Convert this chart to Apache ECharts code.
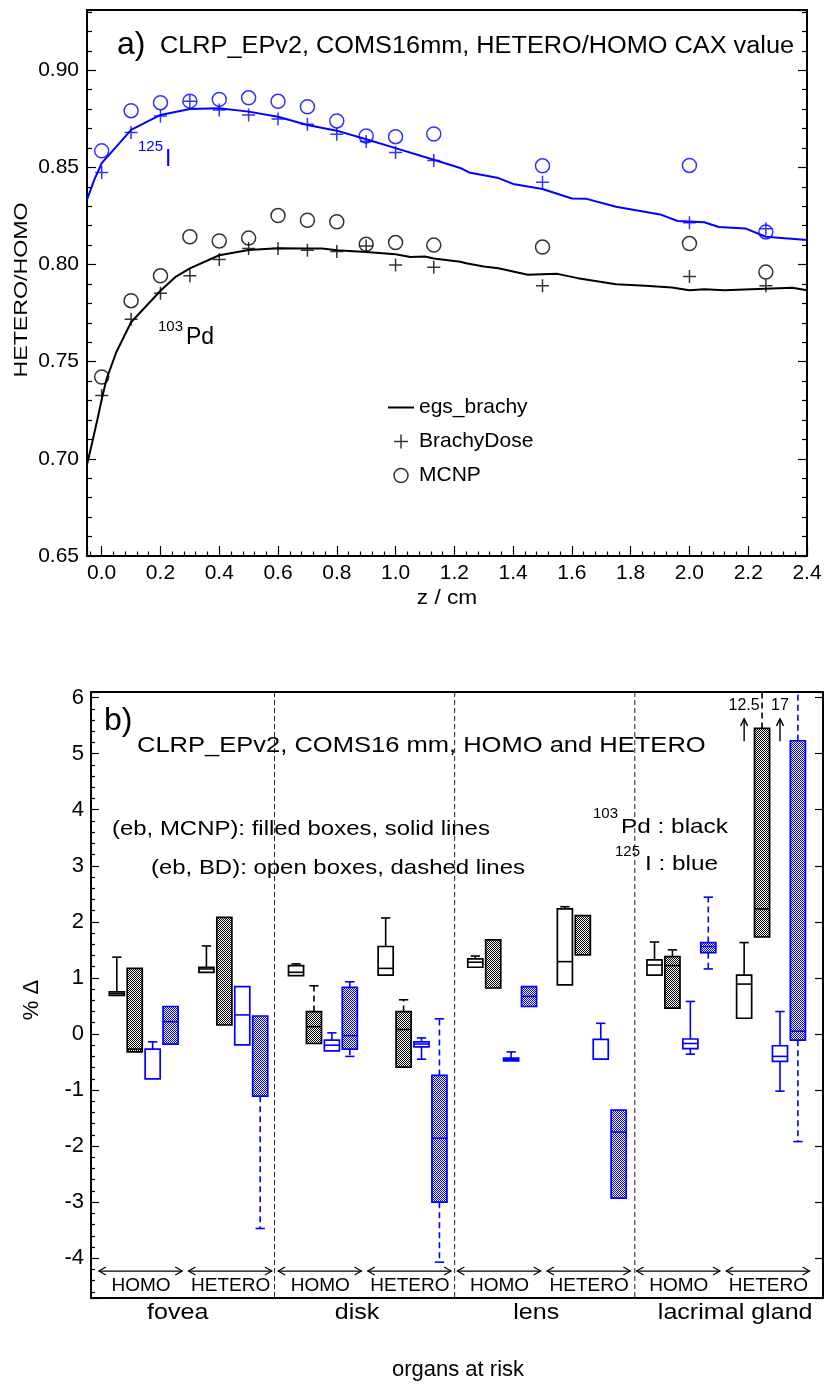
<!DOCTYPE html>
<html><head><meta charset="utf-8">
<script src="https://cdn.jsdelivr.net/npm/echarts@6.0.0/dist/echarts.min.js"></script>
<style>html,body{margin:0;padding:0;background:#fff}#c{width:825px;height:1387px}</style>
</head><body><div id="c"></div><script>
// ================= Panel a) data =================
const zPoints   = [0, 0.1, 0.2, 0.3, 0.4, 0.5, 0.6, 0.7, 0.8, 0.9, 1.0, 1.13, 1.5, 2.0, 2.26];
const bdI125    = [0.8474,0.8679,0.8764,0.8841,0.8795,0.8770,0.8749,0.8722,0.8671,0.8633,0.8577,0.8536,0.8423,0.8215,0.8184];
const mcnpI125  = [0.8585,0.8792,0.8833,0.8841,0.8850,0.8858,0.8840,0.8812,0.8739,0.8662,0.8658,0.8672,0.8508,0.8510,0.8168];
const bdPd103   = [0.7326,0.7719,0.7852,0.7942,0.8026,0.8082,0.8082,0.8073,0.8067,0.8096,0.7997,0.7986,0.7891,0.7939,0.7891];
const mcnpPd103 = [0.7421,0.7814,0.7942,0.8143,0.8121,0.8136,0.8252,0.8228,0.8220,0.8104,0.8113,0.8100,0.8090,0.8108,0.7961];
const egsI125 = [[-0.05,0.8334],[-0.025,0.8437],[0.0,0.8522],[0.05,0.8607],[0.1,0.8693],[0.2,0.8770],[0.3,0.8800],[0.4,0.8804],[0.5,0.8787],[0.6,0.8761],[0.7,0.8718],[0.8,0.8689],[0.9,0.8645],[1.0,0.8599],[1.13,0.8539],[1.22,0.8497],[1.25,0.8474],[1.35,0.8445],[1.4,0.8415],[1.5,0.8389],[1.6,0.8340],[1.65,0.8338],[1.75,0.8297],[1.9,0.8258],[1.96,0.8224],[2.05,0.8218],[2.1,0.8193],[2.19,0.8186],[2.26,0.8143],[2.4,0.8126]];
const egsPd103 = [[-0.05,0.697],[-0.03,0.710],[-0.015,0.720],[0.0,0.7306],[0.017,0.7413],[0.05,0.755],[0.1,0.7703],[0.2,0.7865],[0.25,0.7935],[0.3,0.798],[0.4,0.8048],[0.5,0.8075],[0.6,0.8084],[0.7,0.8082],[0.75,0.8082],[0.8,0.8073],[0.9,0.8065],[1.0,0.8053],[1.05,0.8039],[1.1,0.8041],[1.13,0.8031],[1.22,0.8014],[1.24,0.8007],[1.3,0.799],[1.35,0.7981],[1.45,0.7947],[1.55,0.7952],[1.62,0.793],[1.75,0.7899],[1.85,0.7891],[1.94,0.7882],[2.0,0.7868],[2.05,0.7873],[2.12,0.7868],[2.21,0.7873],[2.35,0.7881],[2.4,0.7868]];

// ================= Panel b) data =================
const organs = ['fovea', 'disk', 'lens', 'lacrimal gland'];
const conditions = ['HOMO', 'HETERO'];
// each entry: [lowWhisker, Q1, median, Q3, highWhisker]  (null = not drawn)
// order: fovea HOMO, fovea HETERO, disk HOMO, disk HETERO, lens HOMO, lens HETERO, lacrimal HOMO, lacrimal HETERO
const pdBD = [
  [null, 0.69, 0.72, 0.75, 1.37],
  [null, 1.10, 1.16, 1.19, 1.57],
  [null, 1.04, 1.10, 1.22, 1.25],
  [null, 1.05, 1.17, 1.56, 2.07],
  [null, 1.19, 1.28, 1.34, 1.39],
  [null, 0.875, 1.29, 2.23, 2.27],
  [null, 1.05, 1.23, 1.32, 1.64],
  [null, 0.28, 0.89, 1.05, 1.63]
];
const pdMCNP = [
  [null, -0.32, -0.27, 1.17, null],
  [null, 0.16, null, 2.08, null],
  [null, -0.17, 0.13, 0.40, 0.86],
  [null, -0.59, 0.08, 0.40, 0.61],
  [null, 0.82, null, 1.68, null],
  [null, 1.41, null, 2.11, null],
  [null, 0.46, 1.22, 1.38, 1.50],
  [null, 1.73, 2.23, 5.45, 12.5]
];
const iBD = [
  [null, -0.80, null, -0.27, -0.14],
  [null, -0.196, 0.34, 0.845, null],
  [null, -0.30, -0.20, -0.11, 0.02],
  [-0.45, -0.23, -0.18, -0.14, -0.07],
  [null, -0.48, -0.45, -0.43, -0.32],
  [null, -0.45, null, -0.095, 0.19],
  [-0.36, -0.26, -0.17, -0.09, 0.58],
  [-1.02, -0.49, -0.40, -0.21, 0.40]
];
const iMCNP = [
  [null, -0.18, 0.22, 0.49, null],
  [-3.47, -1.11, null, 0.32, null],
  [-0.40, -0.27, -0.03, 0.83, 0.93],
  [-4.07, -3.0, -1.86, -0.74, 0.27],
  [null, 0.49, 0.67, 0.845, null],
  [null, -2.93, -1.75, -1.36, null],
  [1.16, 1.45, 1.56, 1.63, 2.44],
  [-1.92, -0.11, 0.05, 5.23, 17]
];
const separators = [8.8, 18.85, 28.9];

// ================= styling / layout =================
const FONT = '"Liberation Sans", Arial, Helvetica, sans-serif';
const BLACK = '#000000', BLUE = '#0000ff';
const X2MIN = -1.44, X2MAX = 39.4, Y2MIN = -4.71, Y2MAX = 6.1;
const BOXW = 0.84;

function makePattern(color) {
  const c = document.createElement('canvas'); c.width = 2; c.height = 2;
  const g = c.getContext('2d');
  g.fillStyle = '#ffffff'; g.fillRect(0, 0, 2, 2);
  g.fillStyle = color; g.fillRect(0, 0, 1, 1); g.fillRect(1, 1, 1, 1);
  return c;
}
const patBlack = makePattern('#000000');
const patBlue = makePattern('#0000ff');

function isNum(v) { return v !== null && v !== undefined && isFinite(v); }

function boxSeries(name, arr, b, color, filled, pat) {
  return {
    type: 'custom', name: name, xAxisIndex: 2, yAxisIndex: 2, clip: true, z: 5, silent: true,
    data: arr.map((d, i) => [i * 5 + b, d[1], d[3]]),
    renderItem: function (params, api) {
      const d = arr[params.dataIndex];
      const slot = api.value(0);
      const low = d[0], q1 = d[1], med = d[2], q3 = d[3], high = d[4];
      const Y = v => api.coord([slot, v])[1];
      const cx = api.coord([slot, q1])[0];
      const hw = api.size([BOXW, 0])[0] / 2;
      const cap = hw * 0.62;
      const wStyle = { stroke: color, lineWidth: 1.6, lineDash: filled ? [6, 4] : null, fill: null };
      const cStyle = { stroke: color, lineWidth: 1.6, fill: null };
      const ch = [];
      if (isNum(high)) {
        ch.push({ type: 'line', shape: { x1: cx, y1: Y(q3), x2: cx, y2: Y(high) }, style: wStyle });
        ch.push({ type: 'line', shape: { x1: cx - cap, y1: Y(high), x2: cx + cap, y2: Y(high) }, style: cStyle });
      }
      if (isNum(low)) {
        ch.push({ type: 'line', shape: { x1: cx, y1: Y(q1), x2: cx, y2: Y(low) }, style: wStyle });
        ch.push({ type: 'line', shape: { x1: cx - cap, y1: Y(low), x2: cx + cap, y2: Y(low) }, style: cStyle });
      }
      ch.push({ type: 'rect', shape: { x: cx - hw, y: Y(q3), width: 2 * hw, height: Y(q1) - Y(q3) },
        style: { fill: filled ? { image: pat, repeat: 'repeat' } : 'rgba(0,0,0,0)', stroke: color, lineWidth: 1.7 } });
      if (isNum(med)) {
        ch.push({ type: 'line', shape: { x1: cx - hw, y1: Y(med), x2: cx + hw, y2: Y(med) }, style: cStyle });
      }
      return { type: 'group', children: ch };
    }
  };
}

// off-scale whiskers (value above axis max) -> arrow + number
const offScale = [];
[pdBD, pdMCNP, iBD, iMCNP].forEach((arr, b) => arr.forEach((d, g) => {
  if (isNum(d[4]) && d[4] > Y2MAX) offScale.push([g * 5 + b - 1.0, d[4]]);
}));

const CROSS = 'path://M7,0L7,14M0,7L14,7';

const chart = echarts.init(document.getElementById('c'), null, { width: 825, height: 1387, renderer: 'canvas' });

const fmtZ = v => { const k = v / 0.2; return (Math.abs(k - Math.round(k)) < 1e-6 && v > -1e-9) ? v.toFixed(1) : ''; };
const fmtR = v => { const k = v / 0.05; return Math.abs(k - Math.round(k)) < 1e-6 ? v.toFixed(2) : ''; };
const fmtI = v => Math.abs(v - Math.round(v)) < 1e-6 ? String(Math.round(v)) : '';

const axLine = { onZero: false, lineStyle: { color: BLACK, width: 2 } };
const tickStyle = { color: BLACK, width: 1.2 };

const textEl = (text, x, y, size, opts) => Object.assign({
  type: 'text', x: x, y: y, silent: true, z: 100,
  style: { text: text, fontSize: size, fontFamily: FONT, fill: (opts && opts.color) || BLACK,
    align: (opts && opts.align) || 'left', textAlign: (opts && opts.align) || 'left',
    verticalAlign: 'middle', textVerticalAlign: 'middle' }
}, opts && opts.extra ? opts.extra : {});

const option = {
  animation: false,
  backgroundColor: '#ffffff',
  textStyle: { fontFamily: FONT },
  grid: [
    { left: 87, right: 18, top: 10, bottom: 831 },
    { left: 91, right: 2, top: 692, bottom: 89 }
  ],
  legend: {
    orient: 'vertical', left: 388, top: 397, itemWidth: 26, itemHeight: 14, itemGap: 13,
    padding: 0, selectedMode: false,
    textStyle: { fontSize: 21, color: BLACK, fontFamily: FONT },
    data: [
      { name: 'egs_brachy', icon: 'path://M0,0H26V2H0Z', itemStyle: { color: BLACK, borderWidth: 0 } },
      { name: 'BrachyDose', itemStyle: { color: BLACK, borderColor: BLACK, borderWidth: 1.5 } },
      { name: 'MCNP', itemStyle: { color: 'rgba(0,0,0,0)', borderColor: BLACK, borderWidth: 1.5 } }
    ]
  },
  xAxis: [
    { gridIndex: 0, type: 'value', min: -0.05, max: 2.4, splitNumber: 12, axisLine: axLine,
      axisTick: { inside: true, length: 10, lineStyle: tickStyle },
      minorTick: { show: true, splitNumber: 5, length: 4.5, lineStyle: tickStyle },
      axisLabel: { formatter: fmtZ, fontSize: 21, color: BLACK, margin: 7, fontFamily: FONT },
      splitLine: { show: false } },
    { gridIndex: 0, type: 'value', position: 'top', min: -0.05, max: 2.4, axisLine: axLine,
      axisTick: { show: false }, axisLabel: { show: false }, splitLine: { show: false } },
    { gridIndex: 1, type: 'value', min: X2MIN, max: X2MAX, axisLine: axLine,
      axisTick: { show: false }, axisLabel: { show: false }, splitLine: { show: false } },
    { gridIndex: 1, type: 'value', position: 'top', min: X2MIN, max: X2MAX, axisLine: axLine,
      axisTick: { show: false }, axisLabel: { show: false }, splitLine: { show: false } }
  ],
  yAxis: [
    { gridIndex: 0, type: 'value', min: 0.65, max: 0.931, splitNumber: 6, axisLine: axLine,
      axisTick: { inside: true, length: 9, lineStyle: tickStyle },
      minorTick: { show: true, splitNumber: 5, length: 5, lineStyle: tickStyle },
      axisLabel: { formatter: fmtR, fontSize: 21, color: BLACK, margin: 8, fontFamily: FONT },
      splitLine: { show: false } },
    { gridIndex: 0, type: 'value', position: 'right', min: 0.65, max: 0.931, splitNumber: 6, axisLine: axLine,
      axisTick: { inside: true, length: 9, lineStyle: tickStyle },
      minorTick: { show: true, splitNumber: 5, length: 5, lineStyle: tickStyle },
      axisLabel: { show: false }, splitLine: { show: false } },
    { gridIndex: 1, type: 'value', min: Y2MIN, max: Y2MAX, splitNumber: 10, axisLine: axLine,
      axisTick: { inside: true, length: 8, lineStyle: tickStyle },
      minorTick: { show: true, splitNumber: 5, length: 4, lineStyle: tickStyle },
      axisLabel: { formatter: fmtI, fontSize: 22, color: BLACK, margin: 7, fontFamily: FONT },
      splitLine: { show: false } },
    { gridIndex: 1, type: 'value', position: 'right', min: Y2MIN, max: Y2MAX, splitNumber: 10, axisLine: axLine,
      axisTick: { inside: true, length: 8, lineStyle: tickStyle },
      axisLabel: { show: false }, splitLine: { show: false } }
  ],
  series: [
    // ---------- panel a ----------
    { type: 'line', name: 'egs_brachy', xAxisIndex: 0, yAxisIndex: 0, data: egsPd103, symbol: 'none',
      lineStyle: { color: BLACK, width: 2 }, itemStyle: { color: BLACK }, z: 3, silent: true },
    { type: 'line', name: 'egs_brachy I-125', xAxisIndex: 0, yAxisIndex: 0, data: egsI125, symbol: 'none',
      lineStyle: { color: BLUE, width: 2 }, itemStyle: { color: BLUE }, z: 3, silent: true },
    { type: 'scatter', name: 'MCNP', xAxisIndex: 0, yAxisIndex: 0, data: zPoints.map((z, i) => [z, mcnpPd103[i]]),
      symbol: 'circle', symbolSize: 14, itemStyle: { color: 'rgba(0,0,0,0)', borderColor: BLACK, borderWidth: 1.5 }, z: 4, silent: true },
    { type: 'scatter', name: 'MCNP I-125', xAxisIndex: 0, yAxisIndex: 0, data: zPoints.map((z, i) => [z, mcnpI125[i]]),
      symbol: 'circle', symbolSize: 14, itemStyle: { color: 'rgba(0,0,0,0)', borderColor: BLUE, borderWidth: 1.5 }, z: 4, silent: true },
    { type: 'scatter', name: 'BrachyDose', xAxisIndex: 0, yAxisIndex: 0, data: zPoints.map((z, i) => [z, bdPd103[i]]),
      symbol: CROSS, symbolSize: 13, itemStyle: { color: BLACK, borderColor: BLACK, borderWidth: 1.5 }, z: 5, silent: true },
    { type: 'scatter', name: 'BrachyDose I-125', xAxisIndex: 0, yAxisIndex: 0, data: zPoints.map((z, i) => [z, bdI125[i]]),
      symbol: CROSS, symbolSize: 13, itemStyle: { color: BLUE, borderColor: BLUE, borderWidth: 1.5 }, z: 5, silent: true },
    // ---------- panel b ----------
    { type: 'custom', name: 'separators', xAxisIndex: 2, yAxisIndex: 2, clip: true, silent: true, z: 2,
      data: separators.map(x => [x, 0]),
      renderItem: function (params, api) {
        const x = api.value(0);
        const p1 = api.coord([x, Y2MAX]), p2 = api.coord([x, Y2MIN]);
        return { type: 'line', shape: { x1: p1[0], y1: p1[1], x2: p2[0], y2: p2[1] },
          style: { stroke: '#222', lineWidth: 1, lineDash: [5, 3] } };
      } },
    boxSeries('Pd BD', pdBD, 0, BLACK, false, null),
    boxSeries('Pd MCNP', pdMCNP, 1, BLACK, true, patBlack),
    boxSeries('I BD', iBD, 2, BLUE, false, null),
    boxSeries('I MCNP', iMCNP, 3, BLUE, true, patBlue),
    { type: 'custom', name: 'conditions', xAxisIndex: 2, yAxisIndex: 2, clip: false, silent: true, z: 6,
      data: [0, 1, 2, 3, 4, 5, 6, 7].map(g => [g * 5 + 1.35, -4.23]),
      renderItem: function (params, api) {
        const g = params.dataIndex;
        const a = api.coord([g * 5 - 1.0, -4.23]), b = api.coord([g * 5 + 3.65, -4.23]);
        const t = api.coord([api.value(0), -4.5]);
        const st = { stroke: BLACK, lineWidth: 1.2, fill: null };
        return { type: 'group', children: [
          { type: 'line', shape: { x1: a[0], y1: a[1], x2: b[0], y2: b[1] }, style: st },
          { type: 'polyline', shape: { points: [[a[0] + 7, a[1] - 4], [a[0], a[1]], [a[0] + 7, a[1] + 4]] }, style: st },
          { type: 'polyline', shape: { points: [[b[0] - 7, b[1] - 4], [b[0], b[1]], [b[0] - 7, b[1] + 4]] }, style: st },
          { type: 'text', x: t[0], y: t[1], style: { text: conditions[g % 2], fontSize: 19, fontFamily: FONT, fill: BLACK,
            align: 'center', verticalAlign: 'middle' } }
        ] };
      } },
    { type: 'custom', name: 'organs', xAxisIndex: 2, yAxisIndex: 2, clip: false, silent: true, z: 6,
      data: organs.map((o, i) => [i * 10 + 3.4 + (i === 3 ? 1.1 : 0), -4.97]),
      renderItem: function (params, api) {
        const p = api.coord([api.value(0), api.value(1)]);
        return { type: 'text', x: p[0], y: p[1], scaleX: 1.14,
          style: { text: organs[params.dataIndex], fontSize: 22, fontFamily: FONT, fill: BLACK, align: 'center', verticalAlign: 'middle' } };
      } },
    { type: 'custom', name: 'offscale', xAxisIndex: 2, yAxisIndex: 2, clip: false, silent: true, z: 6,
      data: offScale,
      renderItem: function (params, api) {
        const x = api.value(0);
        const a = api.coord([x, 5.22]), b = api.coord([x, 5.62]), t = api.coord([x, 5.86]);
        const st = { stroke: BLACK, lineWidth: 1.4, fill: null };
        return { type: 'group', children: [
          { type: 'line', shape: { x1: a[0], y1: a[1], x2: b[0], y2: b[1] }, style: st },
          { type: 'polyline', shape: { points: [[b[0] - 3.5, b[1] + 7], [b[0], b[1]], [b[0] + 3.5, b[1] + 7]] }, style: st },
          { type: 'text', x: t[0], y: t[1], style: { text: String(api.value(1)), fontSize: 16, fontFamily: FONT, fill: BLACK,
            align: 'center', verticalAlign: 'middle' } }
        ] };
      } }
  ],
  graphic: [
    // panel a
    textEl('a)', 117, 45, 32),
    textEl('CLRP_EPv2, COMS16mm, HETERO/HOMO CAX value', 160, 47, 23, { extra: { scaleX: 1.1 } }),
    textEl('125', 138, 147, 15, { color: BLUE }),
    textEl('I', 165, 160, 23, { color: BLUE }),
    textEl('103', 158, 327, 15),
    textEl('Pd', 186, 338, 23),
    textEl('HETERO/HOMO', 22, 290, 19, { align: 'center', extra: { rotation: Math.PI / 2, scaleX: 1.22 } }),
    textEl('z / cm', 447, 598, 21, { align: 'center', extra: { scaleX: 1.08 } }),
    // panel b
    textEl('b)', 104, 721, 32),
    textEl('CLRP_EPv2, COMS16 mm, HOMO and HETERO', 137, 746, 22, { extra: { scaleX: 1.16 } }),
    textEl('(eb, MCNP): filled boxes, solid lines', 112, 829, 21, { extra: { scaleX: 1.14 } }),
    textEl('(eb, BD): open boxes, dashed lines', 151, 868, 21, { extra: { scaleX: 1.14 } }),
    textEl('103', 593, 814, 15),
    textEl('Pd : black', 621, 827, 21, { extra: { scaleX: 1.16 } }),
    textEl('125', 615, 852, 15),
    textEl('I : blue', 645, 864, 21, { extra: { scaleX: 1.16 } }),
    textEl('% Δ', 32, 1000, 22, { align: 'center', extra: { rotation: Math.PI / 2 } }),
    textEl('organs at risk', 458, 1370, 22, { align: 'center', extra: { scaleX: 1.0 } })
  ]
};
chart.setOption(option);
</script></body></html>
